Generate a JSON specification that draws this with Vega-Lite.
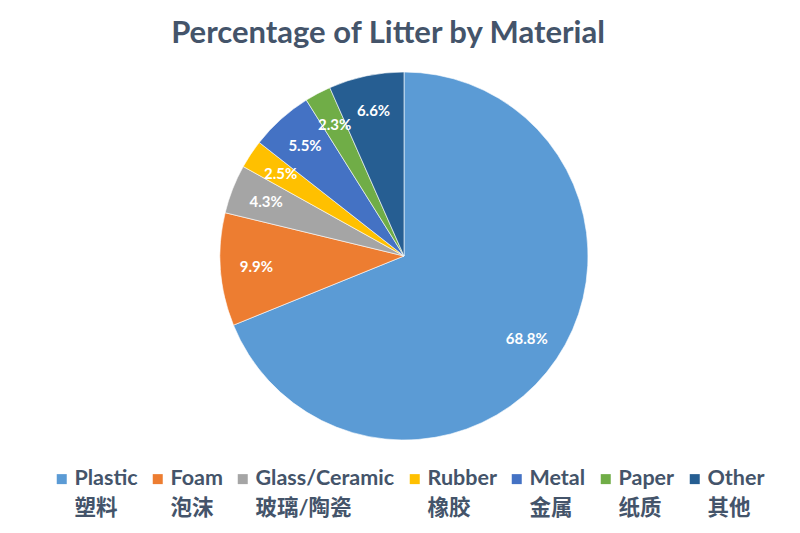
{
  "$schema": "https://vega.github.io/schema/vega-lite/v6.json",
  "width": 800,
  "height": 533,
  "autosize": {"type": "fit", "contains": "padding"},
  "padding": {"left": 51, "right": 43, "top": 18, "bottom": 13},
  "background": "white",
  "title": {"text": "Percentage of Litter by Material", "font": "Lato", "fontSize": 31, "fontWeight": "bold", "color": "#44546a", "offset": 4, "dx": -16},
  "data": {"values": [
    {"idx": 1, "name": "Plastic\n塑料", "frac": 0.688},
    {"idx": 2, "name": "Foam\n泡沫", "frac": 0.099},
    {"idx": 3, "name": "Glass/Ceramic\n玻璃/陶瓷", "frac": 0.043},
    {"idx": 4, "name": "Rubber\n橡胶", "frac": 0.025},
    {"idx": 5, "name": "Metal\n金属", "frac": 0.055},
    {"idx": 6, "name": "Paper\n纸质", "frac": 0.023},
    {"idx": 7, "name": "Other\n其他", "frac": 0.066}
  ]},
  "encoding": {
    "theta": {"field": "frac", "type": "quantitative", "stack": true},
    "order": {"field": "idx", "type": "quantitative"}
  },
  "layer": [
    {
      "mark": {"type": "arc", "outerRadius": 184, "stroke": "white", "strokeWidth": 0.6},
      "encoding": {
        "color": {
          "field": "name", "type": "nominal",
          "sort": ["Plastic\n塑料", "Foam\n泡沫", "Glass/Ceramic\n玻璃/陶瓷", "Rubber\n橡胶", "Metal\n金属", "Paper\n纸质", "Other\n其他"],
          "scale": {
            "domain": ["Plastic\n塑料", "Foam\n泡沫", "Glass/Ceramic\n玻璃/陶瓷", "Rubber\n橡胶", "Metal\n金属", "Paper\n纸质", "Other\n其他"],
            "range": ["#5b9bd5", "#ed7d31", "#a5a5a5", "#ffc000", "#4472c4", "#70ad47", "#265e92"]
          },
          "legend": {
            "title": null,
            "orient": "bottom",
            "direction": "horizontal",
            "symbolType": "square",
            "symbolSize": 100,
            "symbolStrokeWidth": 0,
            "labelExpr": "split(datum.label, '\\n')",
            "labelFont": "Lato, Noto Sans CJK SC",
            "labelFontSize": 21.5,
            "labelFontWeight": "bold",
            "labelColor": "#44546a",
            "labelOffset": 2,
            "labelBaseline": "middle",
            "labelLimit": 300,
            "columnPadding": 9,
            "offset": 10
          }
        }
      }
    },
    {
      "mark": {"type": "text", "radius": 148, "font": "Lato", "fontWeight": "bold", "fontSize": 15, "fill": "white"},
      "encoding": {"text": {"field": "frac", "type": "quantitative", "format": ".1%"}}
    }
  ],
  "config": {
    "view": {"stroke": null},
    "style": {"guide-label": {"lineHeight": 30}}
  }
}
